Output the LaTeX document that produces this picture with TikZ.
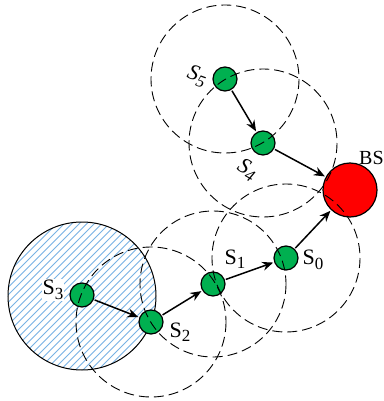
\documentclass[tikz,border=0pt]{standalone}
\usepackage{fontspec}
\setmainfont{Liberation Serif}
\usetikzlibrary{arrows.meta}
\definecolor{sgreen}{RGB}{0,176,80}
\definecolor{hatchblue}{RGB}{120,178,228}
\newcommand{\lbl}[2]{#1\raisebox{-4.5pt}{\fontsize{17}{17}\selectfont #2}}
\begin{document}
\begin{tikzpicture}[x=1pt,y=-1pt,
  sensor/.style={circle,draw=black,line width=1.2pt,fill=sgreen,minimum size=24pt,inner sep=0pt},
  bsnode/.style={circle,draw=black,line width=1.2pt,fill=red,minimum size=54pt,inner sep=0pt},
  rangecirc/.style={draw=black,line width=0.9pt,dash pattern=on 10pt off 5pt},
  link/.style={draw=black,line width=1.5pt,-{Stealth[length=11pt,width=9pt]},shorten >=1pt,shorten <=1pt},
  lab/.style={font=\fontsize{22}{24}\selectfont,inner sep=0pt}]
\useasboundingbox (0,0) rectangle (383,401);
% hatched coverage circle of S3
\begin{scope}
  \clip (82,296) circle (74);
  \fill[white] (82,296) circle (74);
  \foreach \k in {-40,...,40} {
    \draw[hatchblue,line width=1pt] ({82-90+\k*7.5},{296+90}) -- ({82+90+\k*7.5},{296-90});
  }
\end{scope}
\draw[black,line width=1pt] (82,296) circle (74);
% nodes
\node[sensor] (s5) at (225,79) {};
\node[sensor] (s4) at (263,143) {};
\node[bsnode] (bs) at (350,190) {};
\node[sensor] (s0) at (286,258) {};
\node[sensor] (s1) at (213,284) {};
\node[sensor] (s2) at (151,322) {};
\node[sensor] (s3) at (82,295) {};
% dashed range circles
\draw[rangecirc] (s5.center) circle (74);
\draw[rangecirc] (s4.center) circle (74);
\draw[rangecirc] (s0.center) circle (74);
\draw[rangecirc] (s1.center) circle (73);
\draw[rangecirc] (s2.center) circle (75);
% links
\draw[link] (s3) -- (s2);
\draw[link] (s2) -- (s1);
\draw[link] (s1) -- (s0);
\draw[link] (s0) -- (bs);
\draw[link] (s5) -- (s4);
\draw[link] (s4) -- (bs);
% labels
\node[lab,rotate=-20] (l5) at (197,76) {\itshape\lbl{S}{5}};
\node[lab,rotate=-30] (l4) at (247,170) {\itshape\lbl{S}{4}};
\node[lab,anchor=west,font=\fontsize{20}{22}\selectfont] (lbs) at (359,158) {BS};
\node[lab] (l0) at (313,260) {\lbl{S}{0}};
\node[lab] (l1) at (235,259) {\lbl{S}{1}};
\node[lab] (l2) at (180,332) {\lbl{S}{2}};
\node[lab,fill=white,inner sep=1pt] (l3) at (53,290) {\lbl{S}{3}};
\end{tikzpicture}
\end{document}
